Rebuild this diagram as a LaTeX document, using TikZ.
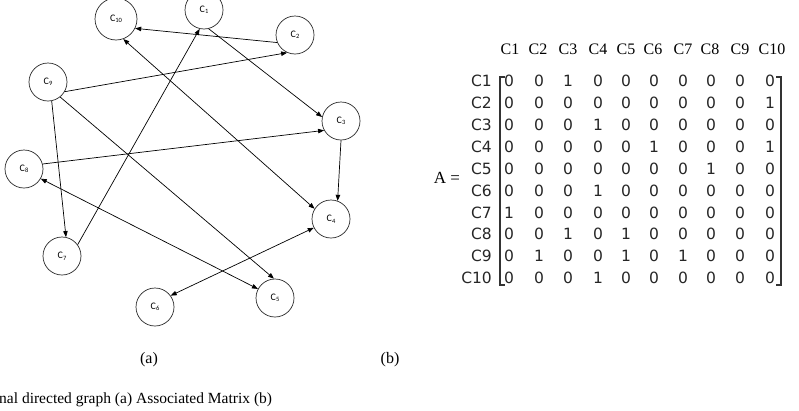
\documentclass[tikz,border=0pt]{standalone}
\usepackage{fontspec}
\setmainfont{Liberation Serif}
\newfontfamily\carl{Carlito}
\newfontfamily\dvs{DejaVu Sans}
\usetikzlibrary{arrows.meta}
\newcommand{\cn}[1]{C\raisebox{-1.5pt}{\fontsize{6.5}{6.5}\selectfont #1}}
\begin{document}
\begin{tikzpicture}[x=1pt,y=-1pt,
  cnode/.style={circle, draw=black!85, line width=0.7pt, minimum size=38pt, inner sep=0pt, font=\carl\fontsize{10}{10}\selectfont},
  arr/.style={line width=0.7pt, -{Triangle[length=6pt,width=4.5pt]}},
  barr/.style={line width=0.7pt, {Triangle[length=6pt,width=4.5pt]}-{Triangle[length=6pt,width=4.5pt]}},
  mlab/.style={font=\dvs\fontsize{15.5}{15.5}\selectfont, text=black!85, inner sep=0pt},
  hlab/.style={font=\fontsize{16}{16}\selectfont, inner sep=0pt},
  bracket/.style={line width=1.4pt, black!80}
  ]
\useasboundingbox (0,0) rectangle (799,410);
% graph nodes
\node[cnode, minimum size=42pt] (c10) at (116,19) {\cn{10}};
\node[cnode] (c1) at (204,10) {\cn{1}};
\node[cnode] (c2) at (295,35) {\cn{2}};
\node[cnode] (c9) at (48,82) {\cn{9}};
\node[cnode] (c3) at (341,121) {\cn{3}};
\node[cnode] (c8) at (24,169) {\cn{8}};
\node[cnode] (c4) at (331,219) {\cn{4}};
\node[cnode] (c7) at (62,256) {\cn{7}};
\node[cnode] (c5) at (275,298) {\cn{5}};
\node[cnode] (c6) at (155,307) {\cn{6}};
% edges
\draw[arr] (c2.203) -- (c10.334);
\draw[arr] (c7.36) -- (c1.257);
\draw[arr] (c1.284) -- (c3.168);
\draw[arr] (c9.330) -- (c2.246);
\draw[barr] (c10.290) -- (c4.148);
\draw[arr] (c9.281) -- (c7.78);
\draw[arr] (c9.309) -- (c5.93);
\draw[arr] (c8.15) -- (c3.209);
\draw[arr] (c3.270) -- (c4.70);
\draw[barr] (c8.330) -- (c5.152);
\draw[barr] (c4.207) -- (c6.36);
% labels
\node[hlab] (la) at (149,360) {(a)};
\node[hlab] (lb) at (390,360) {(b)};
\node[font=\fontsize{15.5}{15.5}\selectfont, anchor=west, inner sep=0pt] (cap) at (-1,400) {nal directed graph (a) Associated Matrix (b)};
% matrix
\node[font=\fontsize{17}{17}\selectfont, inner sep=0pt] (A) at (447,178) {A =};
\def\colx{{509,539,568,598,626,654,683,711,740,770}}
\def\hx{{510,538,568,598,626,653,683,710,740,772}}
\foreach \c in {1,...,10}{
  \pgfmathsetmacro{\xx}{\hx[\c-1]}
  \node[hlab] (h\c) at (\xx,49) {C\c};
}
\foreach \r/\row in {1/{0,0,1,0,0,0,0,0,0,0},
                     2/{0,0,0,0,0,0,0,0,0,1},
                     3/{0,0,0,1,0,0,0,0,0,0},
                     4/{0,0,0,0,0,1,0,0,0,1},
                     5/{0,0,0,0,0,0,0,1,0,0},
                     6/{0,0,0,1,0,0,0,0,0,0},
                     7/{1,0,0,0,0,0,0,0,0,0},
                     8/{0,0,1,0,1,0,0,0,0,0},
                     9/{0,1,0,0,1,0,1,0,0,0},
                     10/{0,0,0,1,0,0,0,0,0,0}}{
  \pgfmathsetmacro{\yy}{81+21.9*(\r-1)}
  \node[mlab, anchor=east] (r\r) at (492,\yy) {C\r};
  \foreach \v [count=\c] in \row {
    \pgfmathsetmacro{\xx}{\colx[\c-1]}
    \node[mlab] (m\r-\c) at (\xx,\yy) {\v};
  }
}
\draw[bracket] (505,77) -- (500,77) -- (500,285) -- (505,285);
\draw[bracket] (776,77) -- (781,77) -- (781,285) -- (776,285);
\end{tikzpicture}
\end{document}
